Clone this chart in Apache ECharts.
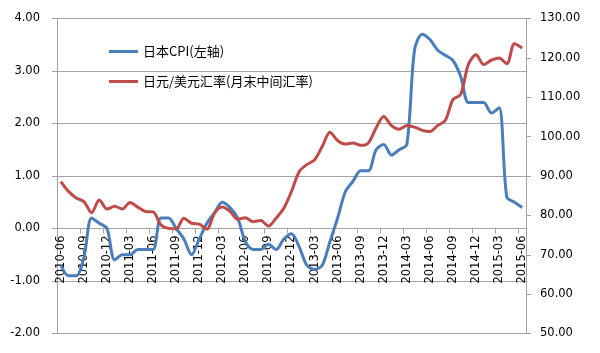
<!DOCTYPE html>
<html lang="zh">
<head>
    <meta charset="UTF-8">
    <title>日本CPI与日元汇率</title>
    <style type="text/css">
        html, body { margin: 0; padding: 0; background: #fff; }
        #chart { width: 600px; height: 353px; }
    </style>
    <script src="https://cdn.jsdelivr.net/npm/echarts@6/dist/echarts.min.js"></script>
</head>
<body>
<div id="chart"></div>
<script type="application/javascript">
    var months = [
        '2010-06','2010-07','2010-08','2010-09','2010-10','2010-11','2010-12',
        '2011-01','2011-02','2011-03','2011-04','2011-05','2011-06','2011-07','2011-08','2011-09','2011-10','2011-11','2011-12',
        '2012-01','2012-02','2012-03','2012-04','2012-05','2012-06','2012-07','2012-08','2012-09','2012-10','2012-11','2012-12',
        '2013-01','2013-02','2013-03','2013-04','2013-05','2013-06','2013-07','2013-08','2013-09','2013-10','2013-11','2013-12',
        '2014-01','2014-02','2014-03','2014-04','2014-05','2014-06','2014-07','2014-08','2014-09','2014-10','2014-11','2014-12',
        '2015-01','2015-02','2015-03','2015-04','2015-05','2015-06'
    ];

    // 日本CPI同比 (左轴)
    var cpi = [
        -0.7, -0.9, -0.9, -0.55, 0.2, 0.1, 0.0,
        -0.6, -0.5, -0.5, -0.4, -0.4, -0.4, 0.2, 0.2, 0.0, -0.2, -0.5, -0.2,
        0.1, 0.3, 0.5, 0.4, 0.2, -0.25, -0.4, -0.4, -0.3, -0.4, -0.2, -0.1,
        -0.35, -0.7, -0.78, -0.7, -0.25, 0.2, 0.7, 0.9, 1.1, 1.1, 1.5, 1.6,
        1.4, 1.5, 1.6, 3.4, 3.7, 3.6, 3.4, 3.3, 3.2, 2.9, 2.4, 2.4,
        2.4, 2.2, 2.3, 0.6, 0.5, 0.4
    ];

    // 日元/美元汇率 月末中间汇率 (右轴)
    var usdjpy = [
        88.6, 86.1, 84.4, 83.5, 80.7, 83.9, 81.6,
        82.3, 81.6, 83.3, 82.1, 81.0, 80.9, 77.6, 76.7, 76.6, 79.3, 78.0, 77.8,
        76.5, 80.6, 82.1, 81.0, 79.0, 79.4, 78.4, 78.7, 77.3, 79.3, 81.8, 86.1,
        91.1, 92.9, 94.1, 97.5, 101.1, 99.0, 98.1, 98.4, 97.8, 98.4, 102.2, 105.1,
        102.8, 101.9, 102.8, 102.4, 101.6, 101.3, 102.8, 104.1, 109.4, 110.7, 118.3, 120.8,
        118.3, 119.4, 120.0, 118.5, 123.6, 122.5
    ];

    var leftTicks = { min: -2, max: 4, step: 1 };
    var rightTicks = { min: 50, max: 130, step: 10 };

    var numFont = 'DejaVu Sans';
    var grey = '#a3a3a3';

    var gridTop = 18.5, gridBottom = 19.5, chartH = 353;
    // the category axis sits on the zero line of the left axis
    var plotH = chartH - gridTop - gridBottom;
    var zeroOffset = -plotH * (0 - leftTicks.min) / (leftTicks.max - leftTicks.min);

    var chart = echarts.init(document.getElementById('chart'));
    var option = {
        animation: false,
        backgroundColor: '#fff',
        grid: {
            left: 57, right: 74, top: gridTop, bottom: gridBottom,
            containLabel: false,
            outerBoundsMode: 'none'
        },
        legend: {
            orient: 'vertical',
            left: 104,
            top: 40,
            icon: 'rect',
            itemWidth: 29,
            itemHeight: 3,
            itemGap: 17,
            textStyle: { fontFamily: 'Noto Sans CJK SC', fontSize: 13, color: '#000' },
            data: ['日本CPI(左轴)', '日元/美元汇率(月末中间汇率)']
        },
        xAxis: {
            type: 'category',
            data: months,
            boundaryGap: true,
            position: 'bottom',
            offset: zeroOffset,
            axisLine: { onZero: false, lineStyle: { color: grey, width: 1 } },
            axisTick: { show: true, interval: 2, length: 5, lineStyle: { color: grey } },
            axisLabel: {
                interval: 2,
                rotate: 90,
                margin: 7,
                fontFamily: numFont,
                fontSize: 11.5,
                color: '#000'
            },
            splitLine: { show: false }
        },
        yAxis: [
            {
                type: 'value',
                position: 'left',
                min: leftTicks.min,
                max: leftTicks.max,
                interval: leftTicks.step,
                axisLine: { show: true, lineStyle: { color: grey } },
                axisTick: { show: true, length: 5, lineStyle: { color: grey } },
                axisLabel: {
                    margin: 17,
                    fontFamily: numFont,
                    fontSize: 11.5,
                    color: '#000',
                    formatter: function (v) { return v.toFixed(2); }
                },
                splitLine: { show: true, lineStyle: { color: grey, width: 1 } }
            },
            {
                type: 'value',
                position: 'right',
                min: rightTicks.min,
                max: rightTicks.max,
                interval: rightTicks.step,
                axisLine: { show: true, lineStyle: { color: grey } },
                axisTick: { show: true, length: 5, lineStyle: { color: grey } },
                axisLabel: {
                    margin: 14,
                    fontFamily: numFont,
                    fontSize: 11.5,
                    color: '#000',
                    formatter: function (v) { return v.toFixed(2); }
                },
                splitLine: { show: false }
            }
        ],
        series: [
            {
                name: '日本CPI(左轴)',
                type: 'line',
                yAxisIndex: 0,
                data: cpi,
                symbol: 'none',
                smooth: 0.3,
                itemStyle: { color: '#4A7EBB' },
                lineStyle: { color: '#4A7EBB', width: 3 }
            },
            {
                name: '日元/美元汇率(月末中间汇率)',
                type: 'line',
                yAxisIndex: 1,
                data: usdjpy,
                symbol: 'none',
                smooth: 0.3,
                itemStyle: { color: '#BE4B48' },
                lineStyle: { color: '#BE4B48', width: 3 }
            }
        ]
    };
    chart.setOption(option);
</script>
</body>
</html>
